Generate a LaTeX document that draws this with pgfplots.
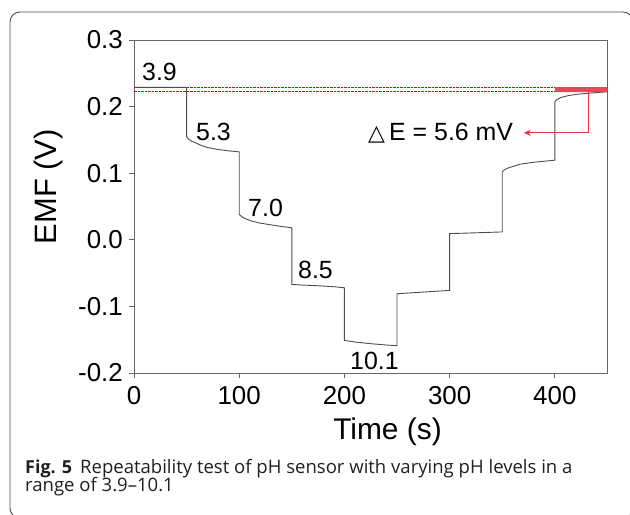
\documentclass[border=0pt]{standalone}
\usepackage{pgfplots}
\pgfplotsset{compat=1.18}
\usepackage{fontspec}
\setmainfont{Liberation Sans}
\newfontfamily\capfont{Open Sans}
\newfontfamily\dejavu{DejaVu Sans}
\usetikzlibrary{arrows.meta}
\definecolor{capgray}{HTML}{231F20}
\definecolor{linegray}{HTML}{4D4D4D}
\definecolor{redline}{HTML}{F0303F}
\definecolor{redband}{HTML}{E34B5A}

\begin{document}
\begin{tikzpicture}[x=1bp,y=1bp]
\path[use as bounding box] (0,0) rectangle (630,515);
\clip (0,0) rectangle (630,515);
\draw[rounded corners=10bp, black!70, line width=0.9bp] (10,-3) rectangle (633,503);
\begin{axis}[at={(134bp,142bp)}, anchor=south west, scale only axis,
  width=473.4bp, height=333bp,
  xmin=0, xmax=450, ymin=-0.2, ymax=0.3,
  xtick={0,100,200,300,400}, ytick={-0.2,-0.1,0,0.1,0.2,0.3},
  xtick pos=bottom, ytick pos=left, tick align=outside, major tick length=5bp,
  axis line style={black!60, line width=0.9bp},
  tick style={black!60, line width=0.8bp},
  /pgf/number format/assume math mode=true,
  yticklabel style={/pgf/number format/fixed, /pgf/number format/precision=1, /pgf/number format/fixed zerofill, /tikz/xshift=-6bp},
  tick label style={font=\fontsize{26}{28}\selectfont, inner sep=0pt},
  xticklabel style={yshift=-8bp},
  clip=false]
\addplot[draw=red, line width=1.1bp, dash pattern=on 2.5bp off 1bp] coordinates {(0,0.2285)(450,0.2285)};
\addplot[draw=red, line width=1.1bp, dash pattern=on 2.5bp off 1bp] coordinates {(0,0.2229)(450,0.2229)};
\addplot[linegray, line width=0.9bp] coordinates {
(0,0.2288)(50,0.2288)(50,0.155)(52,0.151)(55,0.148)(60,0.1445)(65,0.141)(70,0.1385)(80,0.1355)(90,0.1335)(100,0.132)
(100,0.038)(103,0.034)(107,0.031)(112,0.028)(120,0.025)(130,0.0225)(140,0.020)(150,0.018)
(150,-0.067)(160,-0.068)(175,-0.069)(190,-0.0705)(200,-0.072)
(200,-0.151)(210,-0.1535)(225,-0.156)(240,-0.158)(250,-0.159)
(250,-0.081)(275,-0.0785)(300,-0.076)
(300,0.0093)(325,0.0105)(350,0.0118)
(350,0.102)(352,0.105)(355,0.1075)(360,0.110)(367,0.1135)(380,0.1165)(400,0.1195)
(400,0.207)(402,0.2105)(406,0.2138)(412,0.2162)(420,0.2183)(435,0.2205)(450,0.2223)
};
\addplot[fill=redband, draw=none] coordinates {(400,0.2216)(450,0.2216)(450,0.2291)(400,0.2291)(400,0.2216)};
\addplot[draw=redline, line width=0.8bp, -{Stealth[length=7bp,width=6bp]}] coordinates {(431.5,0.2229)(431.5,0.1606)(370.5,0.1606)};
\node[anchor=base west, inner sep=0pt, font=\fontsize{25}{27}\selectfont] at (axis cs:7.6,0.2398) {3.9};
\node[anchor=base west, inner sep=0pt, font=\fontsize{25}{27}\selectfont] at (axis cs:58.9,0.1486) {5.3};
\node[anchor=base west, inner sep=0pt, font=\fontsize{25}{27}\selectfont] at (axis cs:108.4,0.0343) {7.0};
\node[anchor=base west, inner sep=0pt, font=\fontsize{25}{27}\selectfont] at (axis cs:155.9,-0.0583) {8.5};
\node[anchor=base west, inner sep=0pt, font=\fontsize{25}{27}\selectfont] at (axis cs:205.3,-0.1955) {10.1};
\node[anchor=base west, inner sep=0pt, font=\fontsize{25}{27}\selectfont] at (axis cs:222.4,0.1496) {{\dejavu\fontsize{22}{24}\selectfont △}\,E = 5.6 mV};
\end{axis}
\node[rotate=90, anchor=center, inner sep=0pt, font=\fontsize{31}{33}\selectfont] at (48.3,328.3) {EMF (V)};
\node[anchor=base, inner sep=0pt, font=\fontsize{30}{32}\selectfont] at (387.5,75) {Time (s)};
\node[anchor=base west, inner sep=0pt, font=\capfont\bfseries\fontsize{18}{20}\selectfont, text=capgray] at (25,41.7) {Fig. 5};
\node[anchor=base west, inner sep=0pt, font=\capfont\fontsize{18.6}{20}\selectfont, text=capgray] at (80,41.7) {Repeatability test of pH sensor with varying pH levels in a};
\node[anchor=base west, inner sep=0pt, font=\capfont\fontsize{18.6}{20}\selectfont, text=capgray] at (25,23.3) {range of 3.9–10.1};
\end{tikzpicture}
\end{document}
